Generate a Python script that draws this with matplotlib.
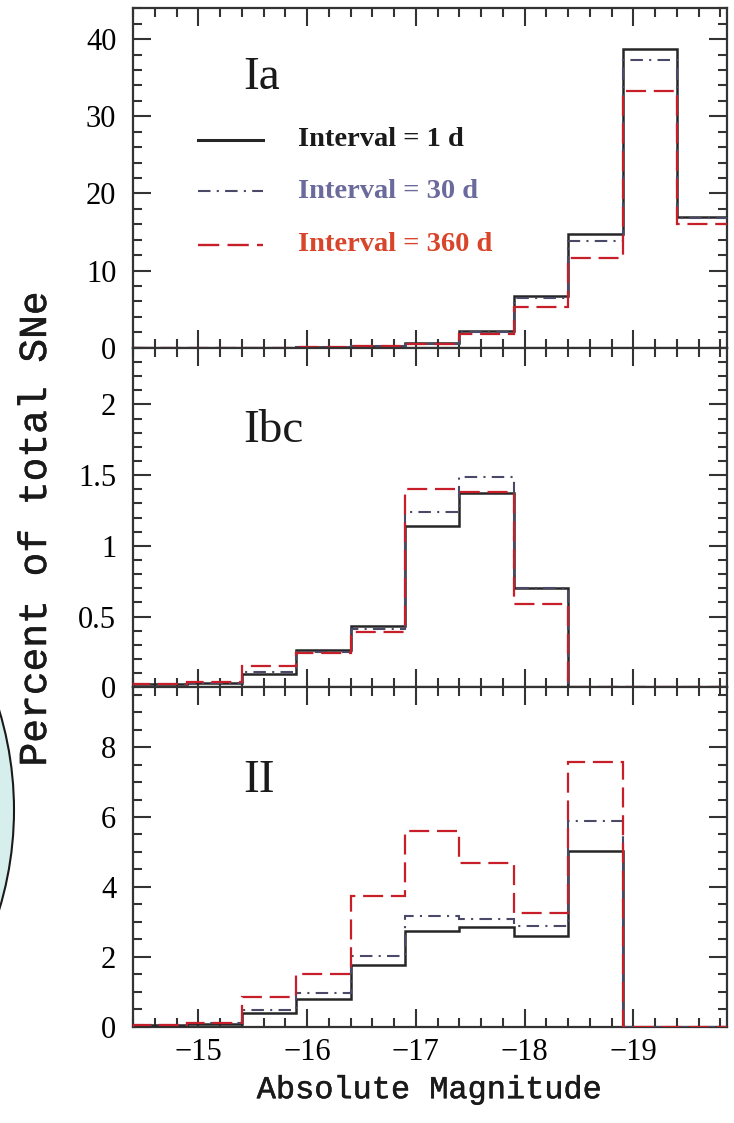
import matplotlib
matplotlib.use("Agg")
import matplotlib.pyplot as plt
import matplotlib.patheffects as pe
from matplotlib.ticker import MultipleLocator, FuncFormatter
from matplotlib.patches import Ellipse

# magnitude bin edges (0.5 mag bins), brightest to the right
edges = [-14.4, -14.9, -15.4, -15.9, -16.4, -16.9, -17.4, -17.9, -18.4, -18.9, -19.4, -19.9]

# percent of total SNe per bin, for the three sampling intervals
ia_1d   = [0.0, 0.0, 0.0, 0.05, 0.2, 0.6, 2.15, 6.7, 14.7, 38.7, 17.0]
ia_30d  = [0.0, 0.0, 0.0, 0.05, 0.25, 0.55, 2.0, 6.5, 13.9, 37.3, 16.8]
ia_360d = [0.0, 0.0, 0.0, 0.05, 0.2, 0.5, 1.8, 5.3, 11.6, 33.3, 16.1]

ibc_1d   = [0.02, 0.03, 0.095, 0.26, 0.43, 1.14, 1.37, 0.70, 0.0, 0.0, 0.0]
ibc_30d  = [0.02, 0.03, 0.11, 0.25, 0.41, 1.24, 1.49, 0.70, 0.0, 0.0, 0.0]
ibc_360d = [0.02, 0.04, 0.15, 0.24, 0.39, 1.40, 1.38, 0.59, 0.0, 0.0, 0.0]

ii_1d   = [0.05, 0.08, 0.38, 0.79, 1.76, 2.75, 2.86, 2.59, 5.03, 0.0, 0.0]
ii_30d  = [0.05, 0.10, 0.48, 0.97, 2.03, 3.16, 3.07, 2.88, 5.89, 0.0, 0.0]
ii_360d = [0.05, 0.12, 0.84, 1.50, 3.75, 5.60, 4.67, 3.24, 7.57, 0.0, 0.0]

labels = ["Interval = 1 d", "Interval = 30 d", "Interval = 360 d"]
panel_names = ["Ia", "Ibc", "II"]

c_solid = "#262626"
c_dd = "#4a4a68"
c_dash = "#c81e2a"
text_cols = ["#1a1a1a", "#6a6a9c", "#d8452a"]

serif = "Liberation Serif"
mono = "Liberation Mono"
heavy = [pe.withStroke(linewidth=0.35, foreground="#1a1a1a")]

fig, axes = plt.subplots(3, 1, figsize=(7.34, 11.23), dpi=100, sharex=True)
fig.subplots_adjust(left=0.1812, right=0.9905, bottom=0.0857, top=0.9926, hspace=0)

panels = [
    (ia_1d, ia_30d, ia_360d, 44, 10, 2),
    (ibc_1d, ibc_30d, ibc_360d, 2.4, 0.5, 0.1),
    (ii_1d, ii_30d, ii_360d, 9.71, 2, 0.5),
]
name_y = [0.795, 0.756, 0.726]

fmt = FuncFormatter(lambda v, p: f"{v:g}".replace("-", "\u2212"))

for ax, (s1, s2, s3, ymax, major, minor), name, ny in zip(axes, panels, panel_names, name_y):
    ax.stairs(s1, edges, color=c_solid, lw=1.8, zorder=3)
    ax.stairs(s2, edges, color=c_dd, lw=1.5, linestyle=(0, (6, 3, 1, 3)), zorder=4)
    ax.stairs(s3, edges, color=c_dash, lw=1.6, linestyle=(0, (9, 3.5)), zorder=5)

    ax.set_xlim(-14.4, -19.86)
    ax.set_ylim(0, ymax)
    ax.xaxis.set_major_locator(MultipleLocator(1))
    ax.xaxis.set_minor_locator(MultipleLocator(0.2))
    ax.yaxis.set_major_locator(MultipleLocator(major))
    ax.yaxis.set_minor_locator(MultipleLocator(minor))
    ax.yaxis.set_major_formatter(fmt)
    ax.xaxis.set_major_formatter(fmt)

    ax.tick_params(which="both", direction="in", top=True, right=True,
                   color="#333333", width=1.5)
    ax.tick_params(which="major", length=13, labelsize=22)
    ax.tick_params(which="minor", length=6.5)
    ax.tick_params(axis="y", pad=12)
    ax.tick_params(axis="x", pad=8)
    for lab in ax.get_xticklabels() + ax.get_yticklabels():
        lab.set_fontfamily(serif)
    for sp in ax.spines.values():
        sp.set_linewidth(1.6)
        sp.set_color("#333333")

    ax.text(0.185, ny, name, transform=ax.transAxes, fontsize=34,
            family=serif, va="center", ha="left", color="#1a1a1a")

# hand-drawn key in the top panel
ax0 = axes[0]
key_y = [0.613, 0.461, 0.304]
key_styles = [
    dict(color=c_solid, lw=2.2, linestyle="-"),
    dict(color=c_dd, lw=1.5, linestyle=(0, (6, 3, 1, 3))),
    dict(color=c_dash, lw=1.7, linestyle=(0, (9, 3.5))),
]
for ky, st, lab, tc in zip(key_y, key_styles, labels, text_cols):
    ax0.plot([0.109, 0.219], [ky, ky], transform=ax0.transAxes, **st)
    ax0.text(0.278, ky, lab, transform=ax0.transAxes, fontsize=20.5,
             family=serif, fontweight="bold", color=tc, va="center", ha="left")

xl = axes[2].set_xlabel("Absolute Magnitude", family=mono, fontsize=23, labelpad=6,
                        color="#1a1a1a")
xl.set_path_effects(heavy)
yl = fig.text(35 / 734, 1 - 529 / 1123, "Percent of total SNe", rotation=90,
              family=mono, fontsize=28.5, ha="center", va="center", color="#1a1a1a")
yl.set_path_effects(heavy)

# edge of the neighbouring circle at the left margin
fig.patches.append(Ellipse((-330 / 734, 1 - 810 / 1123), 2 * 344 / 734, 2 * 344 / 1123,
                           transform=fig.transFigure, facecolor="#d6efec",
                           edgecolor="#1a1a1a", lw=1.5, zorder=0))

fig.savefig("out.png", dpi=100)
